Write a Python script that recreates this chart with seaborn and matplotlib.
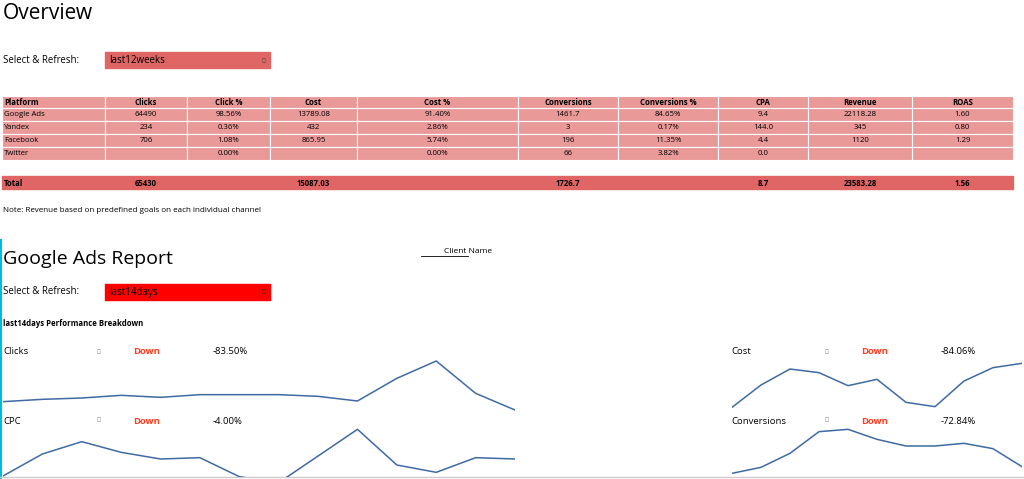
import matplotlib
matplotlib.use("Agg")
import matplotlib.pyplot as plt
from matplotlib.patches import Rectangle
import seaborn as sns

plt.rcParams["font.family"] = "Open Sans"

W, H = 1024, 479

# table data
headers = ["Platform", "Clicks", "Click %", "Cost", "Cost %", "Conversions", "Conversions %", "CPA", "Revenue", "ROAS"]
platforms = ["Google Ads", "Yandex", "Facebook", "Twitter"]
clicks = ["64490", "234", "706", ""]
click_pct = ["98.56%", "0.36%", "1.08%", "0.00%"]
cost = ["13789.08", "432", "865.95", ""]
cost_pct = ["91.40%", "2.86%", "5.74%", "0.00%"]
conversions = ["1461.7", "3", "196", "66"]
conv_pct = ["84.65%", "0.17%", "11.35%", "3.82%"]
cpa = ["9.4", "144.0", "4.4", "0.0"]
revenue = ["22118.28", "345", "1120", ""]
roas = ["1.60", "0.80", "1.29", ""]
totals = ["Total", "65430", "", "15087.03", "", "1726.7", "", "8.7", "23583.28", "1.56"]

# sparkline data (last14days)
clicks_trend = [35, 42, 46, 54, 48, 56, 56, 56, 51, 37, 105, 157, 60, 10]
cpc_trend = [22, 88, 125, 93, 73, 77, 20, 2, 82, 162, 55, 33, 77, 73]
cost_trend = [18, 85, 133, 122, 83, 102, 33, 20, 97, 137, 150]
conv_trend = [30, 48, 90, 155, 162, 132, 112, 112, 120, 104, 50]
kpis = ["Clicks", "CPC", "Cost", "Conversions"]
changes = ["-83.50%", "-4.00%", "-84.06%", "-72.84%"]

fig = plt.figure(figsize=(W / 100, H / 100), dpi=100)
bg = fig.add_axes([0, 0, 1, 1])
bg.set_xlim(0, W)
bg.set_ylim(H, 0)
bg.axis("off")

# titles / controls
bg.text(3, 13, "Overview", fontsize=15, va="center")
bg.text(3, 60, "Select & Refresh:", fontsize=7, va="center")
bg.add_patch(Rectangle((105, 52), 165, 16, color="#e06666"))
bg.text(109, 60, "last12weeks", fontsize=7, va="center")
bg.text(263, 61, "▾", fontsize=5, va="center", ha="center", color="#444")

# table
col_edges = [2, 105, 187, 270, 357, 518, 618, 718, 808, 912, 1013]
row_tops = [96, 108, 121, 134, 147]
row_h = 12.5
columns = [platforms, clicks, click_pct, cost, cost_pct, conversions, conv_pct, cpa, revenue, roas]


def draw_row(y, values, color, bold):
    for i, v in enumerate(values):
        x0, x1 = col_edges[i], col_edges[i + 1]
        bg.add_patch(Rectangle((x0, y), x1 - x0, row_h, facecolor=color, edgecolor="white", lw=0.8))
        if i == 0:
            bg.text(x0 + 2, y + row_h / 2, v, fontsize=5.6, va="center", fontweight="bold" if bold else "normal")
        else:
            bg.text((x0 + x1) / 2, y + row_h / 2, v, fontsize=5.6, va="center", ha="center",
                    fontweight="bold" if bold else "normal")


draw_row(row_tops[0], headers, "#ea9999", True)
for r in range(len(platforms)):
    draw_row(row_tops[r + 1], [c[r] for c in columns], "#ea9999", False)
bg.add_patch(Rectangle((2, 176), 1011, 13, color="#e06666"))
for i, v in enumerate(totals):
    x0, x1 = col_edges[i], col_edges[i + 1]
    if i == 0:
        bg.text(x0 + 2, 183, v, fontsize=5.6, va="center", fontweight="bold")
    else:
        bg.text((x0 + x1) / 2, 183, v, fontsize=5.6, va="center", ha="center", fontweight="bold")
bg.text(3, 211, "Note: Revenue based on predefined goals on each individual channel", fontsize=5.8, va="center")

# google ads section
bg.plot([1, 1], [240, 479], color="#00bcd4", lw=1.5)
bg.text(444, 251, "Client Name", fontsize=6, va="center")
bg.plot([421, 468], [256, 256], color="black", lw=0.6)
bg.text(3, 259, "Google Ads Report", fontsize=14, va="center")
bg.text(3, 292, "Select & Refresh:", fontsize=7, va="center")
bg.add_patch(Rectangle((105, 284), 165, 16, color="#ff0000"))
bg.text(109, 292, "last14days", fontsize=7, va="center")
bg.text(263, 293, "▾", fontsize=5, va="center", ha="center", color="#222")
bg.text(3, 324, "last14days Performance Breakdown", fontsize=5.6, va="center", fontweight="bold")
bg.plot([0, W], [477, 477], color="#cccccc", lw=1)

label_pos = [(3, 352), (3, 421), (731, 352), (731, 421)]
for (x, y), name, chg in zip(label_pos, kpis, changes):
    bg.text(x, y, name, fontsize=6.8, va="center")
    bg.text(x + 95, y, "▾", fontsize=5, va="center", ha="center", color="#888")
    bg.text(x + 130, y, "Down", fontsize=6.8, va="center", color="#ff3d1f", fontweight="bold")
    bg.text(x + 210, y, chg, fontsize=6.8, va="center")


def spark(x0, x1, y0, y1, vals, vtop, vbot):
    ax = fig.add_axes([x0 / W, 1 - y1 / H, (x1 - x0) / W, (y1 - y0) / H])
    sns.lineplot(x=list(range(len(vals))), y=vals, ax=ax, color="#3f6aa3", lw=1.1)
    ax.set_xlim(0, len(vals) - 1)
    ax.set_ylim(vbot, vtop)
    ax.axis("off")
    ax.patch.set_alpha(0)


spark(3, 515, 340, 415, clicks_trend, 220, -5)
spark(3, 515, 410, 477, cpc_trend, 220, 19)
spark(732, 1022, 340, 415, cost_trend, 220, -5)
spark(732, 1022, 410, 477, conv_trend, 220, 19)

fig.savefig("out.png", dpi=100)
